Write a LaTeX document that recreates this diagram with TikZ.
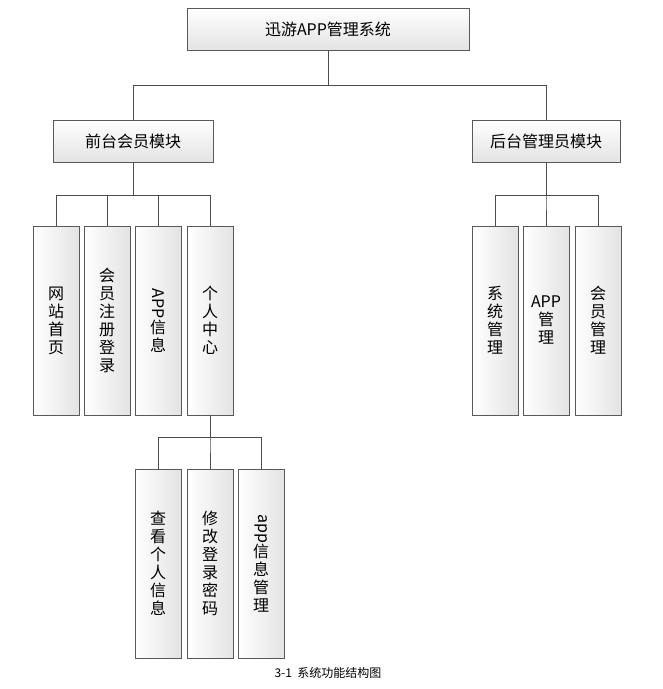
\documentclass[tikz,border=0pt]{standalone}
\usepackage{fontspec}
\setmainfont{Noto Sans CJK SC}
\usetikzlibrary{positioning}
\tikzset{
  module/.style={draw=gray!70!black, top color=white, bottom color=gray!22, minimum height=31.5pt, inner sep=0pt, font=\fontsize{12pt}{14pt}\selectfont},
  leaf/.style={draw=gray!70!black, left color=white, right color=gray!22, minimum width=34.5pt, minimum height=141.75pt, inner sep=0pt, align=center, font=\fontsize{12pt}{13.5pt}\selectfont},
  link/.style={draw=gray!60!black, line width=0.6pt}
}
\newcommand{\rotlat}[1]{\rotatebox{-90}{#1}}
\begin{document}
\begin{tikzpicture}[x=0.75pt,y=-0.75pt]
\useasboundingbox (0,0) rectangle (662,689);

% modules
\node[module, minimum width=211.5pt] (top) at (328,29.5) {迅游APP管理系统};
\node[module, minimum width=120pt] (front) at (133,141) {前台会员模块};
\node[module, minimum width=111pt] (back) at (546,141) {后台管理员模块};

% front leaves
\node[leaf] (home) at (56,320.5) {网\\站\\首\\页};
\node[leaf] (reg) at (107,320.5) {会\\员\\注\\册\\登\\录};
\node[leaf] (info) at (158,320.5) {\rotlat{APP}\\信\\息};
\node[leaf] (center) at (210,320.5) {个\\人\\中\\心};

% back leaves
\node[leaf] (sys) at (495,320.5) {系\\统\\管\\理};
\node[leaf] (app) at (546,320.5) {APP\\管\\理};
\node[leaf] (member) at (598,320.5) {会\\员\\管\\理};

% personal center leaves
\node[leaf] (view) at (158,563.5) {查\\看\\个\\人\\信\\息};
\node[leaf] (pwd) at (210,563.5) {修\\改\\登\\录\\密\\码};
\node[leaf] (appinfo) at (261,563.5) {\rotlat{app}\\信\\息\\管\\理};

% connectors
\draw[link] (top.south) |- (133,85) -- (front.north);
\draw[link] (top.south) |- (546,85) -- (back.north);
\foreach \n in {home,reg,info,center}
  \draw[link] (front.south) |- (\n.north |- 0,195) -- (\n.north);
\foreach \n in {sys,app,member}
  \draw[link] (back.south) |- (\n.north |- 0,195) -- (\n.north);
\foreach \n in {view,pwd,appinfo}
  \draw[link] (center.south) |- (\n.north |- 0,437) -- (\n.north);

% caption
\node[font=\fontsize{9pt}{11pt}\selectfont] (cap) at (328,673) {3-1\ \ 系统功能结构图};
\end{tikzpicture}
\end{document}
